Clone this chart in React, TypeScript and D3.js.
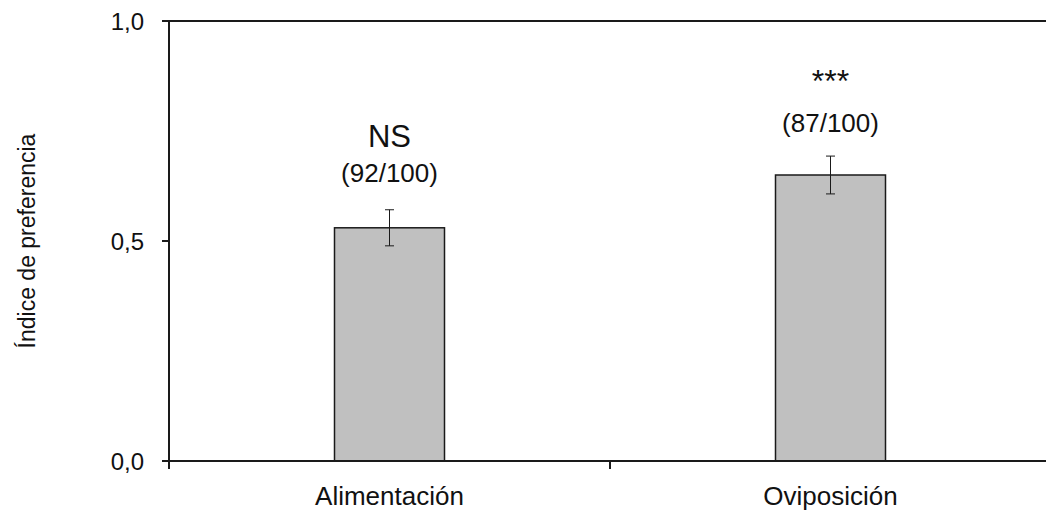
import * as d3 from 'd3'
import { useEffect, useRef } from 'react'

// data
const categories = ['Alimentación', 'Oviposición']
const values = [0.53, 0.65]
const errors = [0.041, 0.043]
const signif = ['NS', '***']
const counts = ['(92/100)', '(87/100)']
const yTicks = [0, 0.5, 1]

const W = 1046
const H = 513

export default function App() {
  const ref = useRef<SVGSVGElement>(null)

  useEffect(() => {
    const svg = d3.select(ref.current)
    svg.selectAll('*').remove()

    const left = 169
    const right = 1051
    const top = 21
    const bottom = 461
    const font = 'Liberation Sans, Arial, sans-serif'

    const x = d3.scaleBand<string>().domain(categories).range([left, right])
    const y = d3.scaleLinear().domain([0, 1]).range([bottom, top])
    const barW = 110

    const g = svg.append('g')

    // bars
    g.selectAll('.bar')
      .data(categories)
      .enter().append('rect')
      .attr('x', d => x(d)! + x.bandwidth() / 2 - barW / 2)
      .attr('y', (d, i) => y(values[i]))
      .attr('width', barW)
      .attr('height', (d, i) => bottom - y(values[i]))
      .attr('fill', '#c0c0c0')
      .attr('stroke', '#1a1a1a')
      .attr('stroke-width', 1.5)

    // error bars
    categories.forEach((c, i) => {
      const cx = x(c)! + x.bandwidth() / 2
      const y1 = y(values[i] + errors[i])
      const y0 = y(values[i] - errors[i])
      const eg = g.append('g').attr('stroke', '#1a1a1a').attr('stroke-width', 1)
      eg.append('line').attr('x1', cx).attr('x2', cx).attr('y1', y1).attr('y2', y0)
      eg.append('line').attr('x1', cx - 4.5).attr('x2', cx + 4.5).attr('y1', y1).attr('y2', y1)
      eg.append('line').attr('x1', cx - 4.5).attr('x2', cx + 4.5).attr('y1', y0).attr('y2', y0)
    })

    // annotations
    const sigY = [147, 92]
    const sigSize = [31, 32]
    const cntY = [182, 132]
    categories.forEach((c, i) => {
      const cx = x(c)! + x.bandwidth() / 2
      g.append('text')
        .attr('x', cx).attr('y', sigY[i])
        .attr('text-anchor', 'middle')
        .attr('font-family', font).attr('font-size', sigSize[i])
        .attr('fill', '#111')
        .text(signif[i])
      g.append('text')
        .attr('x', cx).attr('y', cntY[i])
        .attr('text-anchor', 'middle')
        .attr('font-family', font).attr('font-size', 26)
        .attr('fill', '#111')
        .text(counts[i])
    })

    // frame: top line, left axis, bottom axis
    const axisColor = '#1a1a1a'
    g.append('line').attr('x1', left).attr('x2', right).attr('y1', top).attr('y2', top)
      .attr('stroke', axisColor).attr('stroke-width', 2)
    g.append('line').attr('x1', left).attr('x2', right).attr('y1', bottom).attr('y2', bottom)
      .attr('stroke', axisColor).attr('stroke-width', 2)
    g.append('line').attr('x1', left).attr('x2', left).attr('y1', top).attr('y2', bottom + 8)
      .attr('stroke', axisColor).attr('stroke-width', 2)

    // y ticks
    yTicks.forEach(t => {
      g.append('line').attr('x1', left - 7).attr('x2', left).attr('y1', y(t)).attr('y2', y(t))
        .attr('stroke', axisColor).attr('stroke-width', 2)
      g.append('text')
        .attr('x', 144).attr('y', y(t) + 9)
        .attr('text-anchor', 'end')
        .attr('font-family', font).attr('font-size', 24)
        .attr('fill', '#111')
        .text(d3.format('.1f')(t).replace('.', ','))
    })

    // x ticks between categories
    const xt = x(categories[1])!
    g.append('line').attr('x1', xt).attr('x2', xt).attr('y1', bottom).attr('y2', bottom + 8)
      .attr('stroke', axisColor).attr('stroke-width', 2)

    // x labels
    categories.forEach(c => {
      g.append('text')
        .attr('x', x(c)! + x.bandwidth() / 2).attr('y', 505)
        .attr('text-anchor', 'middle')
        .attr('font-family', font).attr('font-size', 26)
        .attr('fill', '#111')
        .text(c)
    })

    // y title
    g.append('text')
      .attr('transform', `translate(35, ${(top + bottom) / 2}) rotate(-90)`)
      .attr('text-anchor', 'middle')
      .attr('font-family', font).attr('font-size', 23)
      .attr('fill', '#111')
      .text('Índice de preferencia')
  }, [])

  return (
    <svg ref={ref} width={W} height={H}
      style={{ position: 'absolute', left: 0, top: 0, background: '#fff' }} />
  )
}
